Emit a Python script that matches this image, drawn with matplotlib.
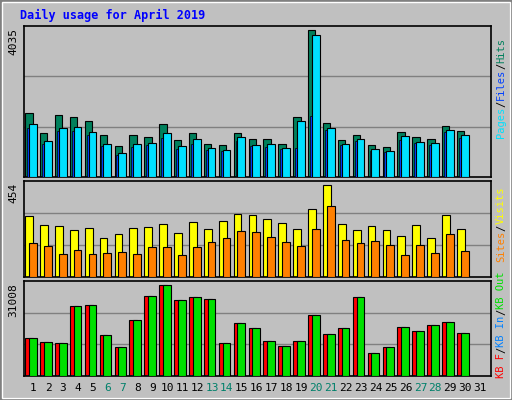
import matplotlib
matplotlib.use("Agg")
import matplotlib.pyplot as plt
from matplotlib.patches import Rectangle
import numpy as np

days = list(range(1, 31))
day_labels = [str(d) for d in range(1, 32)]
weekend = [6, 7, 13, 14, 20, 21, 27, 28]

hits = [1762, 1214, 1707, 1652, 1543, 1159, 858, 1159, 1105, 1461, 1022, 1214, 913, 886, 1214,
        1050, 1050, 913, 1652, 4035, 1488, 1022, 1159, 886, 831, 1242, 1105, 1050, 1406, 1269]
files = [1461, 977, 1351, 1378, 1242, 913, 666, 913, 940, 1214, 858, 1050, 803, 749, 1105,
         886, 913, 803, 1543, 3898, 1351, 913, 1050, 776, 721, 1132, 968, 940, 1296, 1159]
pages = [1351, 913, 1269, 1269, 1159, 858, 612, 831, 886, 1077, 776, 913, 749, 721, 995,
         858, 831, 776, 803, 1680, 1296, 886, 995, 721, 694, 1022, 940, 886, 1242, 1077]
visits = [302, 257, 252, 233, 243, 193, 213, 243, 247, 262, 218, 272, 238, 277, 311,
          306, 287, 267, 238, 336, 454, 262, 233, 252, 233, 203, 257, 193, 306, 238]
sites = [169, 154, 115, 134, 115, 120, 125, 115, 149, 149, 110, 149, 174, 193, 228,
         223, 198, 174, 154, 238, 351, 184, 169, 179, 159, 110, 159, 120, 213, 129]
kbf = [13018, 11660, 11320, 23885, 24225, 14037, 9962, 19131, 27281, 31008, 25923, 26942, 26262, 11320, 18112,
       16414, 11999, 10301, 11999, 20829, 14376, 16414, 26942, 7924, 9962, 16754, 15395, 17433, 18452, 14716]
kbout = kbf
kbin = [300] * 30

BG = "#C0C0C0"
fig = plt.figure(figsize=(5.12, 4.0), dpi=100, facecolor=BG)
W, H = 512, 400

def ax_px(x0, y0, x1, y1):
    return fig.add_axes([x0 / W, 1 - y1 / H, (x1 - x0) / W, (y1 - y0) / H])

fig.patches.append(Rectangle((0, 0), 1, 1, transform=fig.transFigure, fill=False, ec="#808080", lw=3))
fig.patches.append(Rectangle((2/W, 2/H), 1-4/W, 1-4/H, transform=fig.transFigure, fill=False, ec="white", lw=1))

X0, X1 = 24, 491
xl = (0.375, 31.74)
d = np.array(days)

def setup(ax):
    ax.set_facecolor(BG)
    ax.set_xlim(*xl)
    ax.set_xticks([])
    ax.set_yticks([])
    for s in ax.spines.values():
        s.set_color("black"); s.set_linewidth(1.2)

ax1 = ax_px(X0, 26, X1, 177)
setup(ax1)
top1 = 4035 * (177 - 26) / 147.3
ax1.set_ylim(0, top1)
for f in (1/3, 2/3):
    ax1.axhline(top1 * f, color="#808080", lw=1, zorder=0)
ax1.bar(d - 0.54, hits, width=0.49, align="edge", color="#00805C", ec="black", lw=0.8, zorder=2)
ax1.bar(d - 0.42, pages, width=0.14, align="edge", color="#0040FF", ec="black", lw=0.5, zorder=3)
ax1.bar(d - 0.29, files, width=0.52, align="edge", color="#00E0FF", ec="black", lw=0.8, zorder=4)

ax2 = ax_px(X0, 181, X1, 277)
setup(ax2)
top2 = 454 * (277 - 181) / 92.3
ax2.set_ylim(0, top2)
for f in (1/3, 2/3):
    ax2.axhline(top2 * f, color="#808080", lw=1, zorder=0)
ax2.bar(d - 0.54, visits, width=0.52, align="edge", color="#FFFF00", ec="black", lw=0.8, zorder=2)
ax2.bar(d - 0.29, sites, width=0.52, align="edge", color="#FF8000", ec="black", lw=0.8, zorder=3)

ax3 = ax_px(X0, 281, X1, 376)
setup(ax3)
top3 = 31008 * (376 - 281) / 91.3
ax3.set_ylim(0, top3)
for f in (1/3, 2/3):
    ax3.axhline(top3 * f, color="#808080", lw=1, zorder=0)
ax3.bar(d - 0.54, kbf, width=0.52, align="edge", color="#FF0000", ec="black", lw=0.8, zorder=2)
ax3.bar(d - 0.45, kbin, width=0.12, align="edge", color="#0080FF", ec="black", lw=0.4, zorder=3)
ax3.bar(d - 0.29, kbout, width=0.52, align="edge", color="#00E000", ec="black", lw=0.8, zorder=4)

for i, lab in enumerate(day_labels):
    dd = i + 1
    xpx = X0 + (dd - xl[0]) / (xl[1] - xl[0]) * (X1 - X0)
    fig.text(xpx / W, 1 - 388 / H, lab, ha="center", va="center", fontsize=8,
             family="DejaVu Sans Mono", color="#00806A" if dd in weekend else "black")

mono = "DejaVu Sans Mono"
fig.text(20 / W, 1 - 15 / H, "Daily usage for April 2019", color="#0000FF", fontsize=8.5,
         fontweight="bold", family=mono, va="center", ha="left")
for y, t in [(26, "4035"), (181, "454"), (281, "31008")]:
    fig.text(13 / W, 1 - (y + 2) / H, t, rotation=90, ha="center", va="top", fontsize=8, family=mono)

FS = 7.5
CH = FS * 0.602 * 100 / 72

def vlabel(ybottom_px, parts):
    # parts listed from bottom to top, text reads bottom-to-top
    yy = ybottom_px
    for txt, col in parts:
        n = len(txt)
        fig.text(501 / W, 1 - (yy - n * CH / 2) / H, txt, rotation=90, color=col, ha="center",
                 va="center", fontsize=FS, family=mono)
        yy -= n * CH

vlabel(138, [("Pages", "#00E0FF"), ("/", "black"), ("Files", "#0040FF"), ("/", "black"), ("Hits", "#00805C")])
vlabel(262, [("Sites", "#FF8000"), ("/", "black"), ("Visits", "#FFFF00")])
vlabel(378, [("KB F", "#FF0000"), ("/", "black"), ("KB In", "#0080FF"), ("/", "black"), ("KB Out", "#00E000")])

fig.savefig("out.png", dpi=100, facecolor=BG)
